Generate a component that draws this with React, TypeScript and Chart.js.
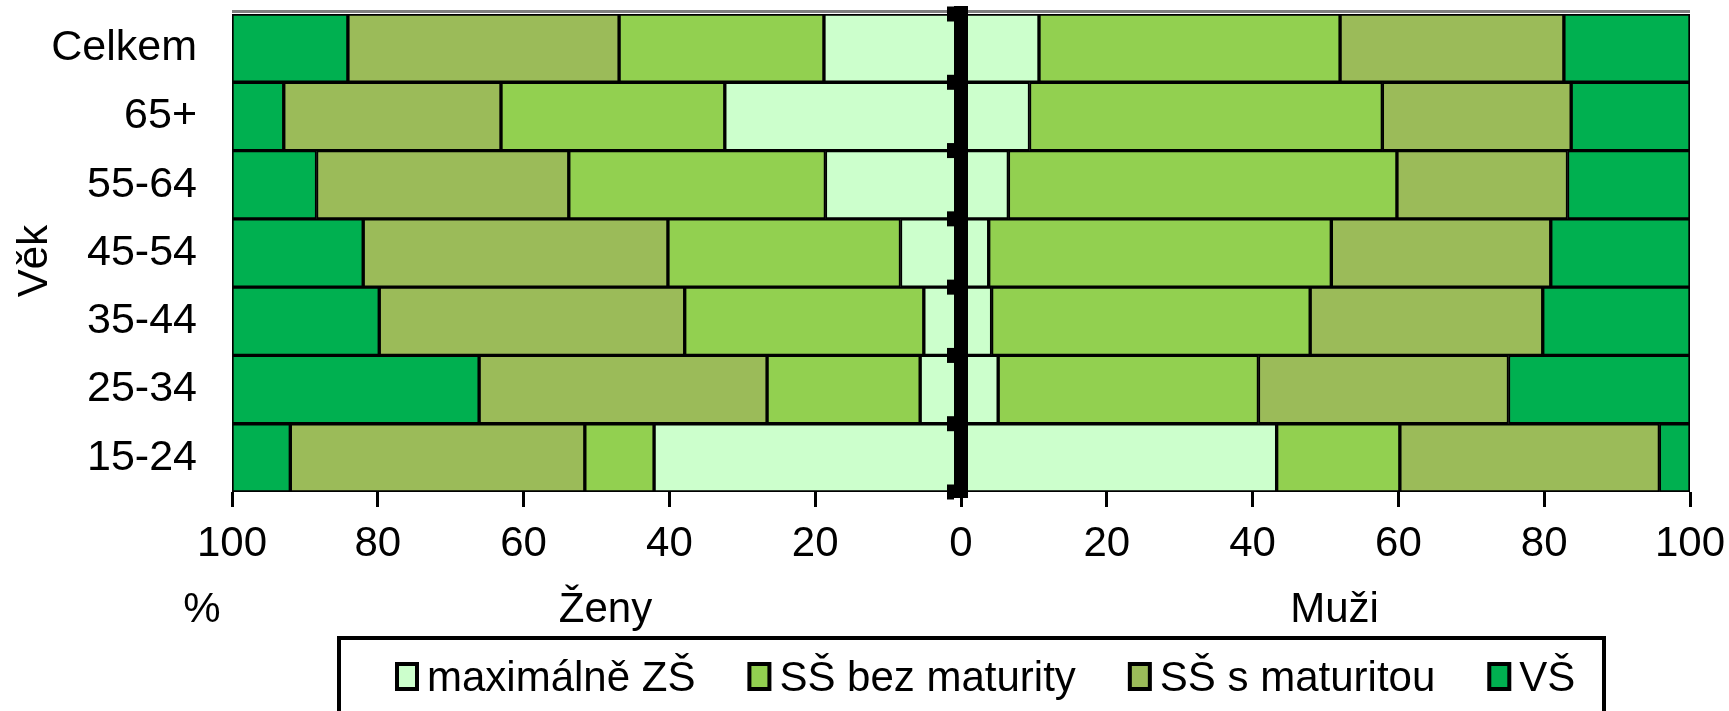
import { useEffect, useRef } from "react";
import { Chart, registerables } from "chart.js";

Chart.register(...registerables);

const FONT = "'Liberation Sans', Arial, sans-serif";

const categories = ["Celkem", "65+", "55-64", "45-54", "35-44", "25-34", "15-24"];
const levels = ["maximálně ZŠ", "SŠ bez maturity", "SŠ s maturitou", "VŠ"];
const colors = ["#CCFFCC", "#92D050", "#9BBB59", "#00B050"];

// Ženy (women) – drawn to the left
const zenyZS = [18.8, 32.4, 18.6, 8.3, 5.1, 5.6, 42.1];
const zenyBez = [28.1, 30.7, 35.2, 31.9, 32.8, 21.0, 9.5];
const zenyS = [37.2, 29.8, 34.6, 41.8, 41.9, 39.5, 40.4];
const zenyVS = [15.9, 7.1, 11.6, 18.0, 20.2, 33.9, 8.0];

// Muži (men) – drawn to the right
const muziZS = [10.7, 9.4, 6.5, 3.8, 4.2, 5.1, 43.3];
const muziBez = [41.3, 48.4, 53.3, 47.0, 43.7, 35.7, 16.9];
const muziS = [30.7, 25.9, 23.4, 30.1, 31.9, 34.3, 35.6];
const muziVS = [17.3, 16.3, 16.8, 19.1, 20.2, 24.9, 4.2];

const genderLabels = ["Ženy", "Muži"];
const unitLabel = "%";
const axisTitle = "Věk";
const xMin = -100;
const xMax = 100;
const xStep = 20;

const decorPlugin = {
  id: "decor",
  beforeDatasetsDraw(chart: any) {
    const { ctx, chartArea: a } = chart;
    ctx.save();
    ctx.fillStyle = "#808080";
    ctx.fillRect(a.left, a.top - 4, a.right - a.left, 3);
    ctx.restore();
  },
  afterDraw(chart: any) {
    const { ctx, chartArea: a, scales } = chart;
    const xs = scales.x;
    const ys = scales.y;
    const x0 = xs.getPixelForValue(0);
    ctx.save();
    ctx.fillStyle = "#000";
    // thick centre axis
    ctx.fillRect(x0 - 7, a.top - 8, 14, a.bottom - a.top + 14);
    for (let i = 0; i <= categories.length; i++) {
      const y = ys.getPixelForValue(i - 0.5);
      ctx.fillRect(x0 - 14, y - 7.5, 7, 15);
    }
    ctx.font = `42px ${FONT}`;
    // vertical axis title
    ctx.save();
    ctx.translate(35, (a.top + a.bottom) / 2 + 8);
    ctx.rotate(-Math.PI / 2);
    ctx.textAlign = "center";
    ctx.textBaseline = "middle";
    ctx.fillText(axisTitle, 0, 0);
    ctx.restore();
    // under-axis labels
    ctx.textAlign = "center";
    ctx.textBaseline = "alphabetic";
    ctx.fillText(unitLabel, xs.getPixelForValue(-100) - 30, 622);
    ctx.fillText(genderLabels[0], xs.getPixelForValue(-50) + 9, 622);
    ctx.fillText(genderLabels[1], xs.getPixelForValue(50) + 9, 622);
    // legend
    const boxL = 339;
    const boxT = 638;
    const boxR = 1604;
    ctx.lineWidth = 4;
    ctx.strokeStyle = "#000";
    ctx.strokeRect(boxL, boxT, boxR - boxL, 140);
    let x = boxL + 56;
    ctx.textAlign = "left";
    levels.forEach((lab, i) => {
      ctx.fillStyle = "#000";
      ctx.fillRect(x, 662, 24, 29);
      ctx.fillStyle = colors[i];
      ctx.fillRect(x + 4, 666, 16, 21);
      ctx.fillStyle = "#000";
      ctx.fillText(lab, x + 32, 691);
      x += 32 + ctx.measureText(lab).width + 52;
    });
    ctx.restore();
  },
};

export default function App() {
  const ref = useRef<HTMLCanvasElement>(null);

  useEffect(() => {
    const women = [zenyZS, zenyBez, zenyS, zenyVS];
    const men = [muziZS, muziBez, muziS, muziVS];
    const datasets: any[] = [];
    women.forEach((arr, i) => {
      datasets.push({
        label: `${genderLabels[0]} – ${levels[i]}`,
        data: arr.map((v) => -v),
        backgroundColor: colors[i],
      });
    });
    men.forEach((arr, i) => {
      datasets.push({
        label: `${genderLabels[1]} – ${levels[i]}`,
        data: arr,
        backgroundColor: colors[i],
      });
    });
    datasets.forEach((d) => {
      d.borderColor = "#000";
      d.borderWidth = 2;
      d.borderSkipped = false;
      d.barPercentage = 1;
      d.categoryPercentage = 1;
      d.stack = "s";
    });

    const chart = new Chart(ref.current!, {
      type: "bar",
      data: { labels: categories, datasets },
      plugins: [decorPlugin],
      options: {
        indexAxis: "y",
        responsive: false,
        animation: false,
        devicePixelRatio: 1,
        layout: { padding: { top: 14, right: 39, left: 0, bottom: 0 } },
        plugins: {
          legend: { display: false },
          tooltip: { enabled: false },
        },
        scales: {
          x: {
            type: "linear",
            stacked: true,
            min: xMin,
            max: xMax,
            afterFit: (s: any) => {
              s.height = 219;
              s.paddingLeft = 0;
              s.paddingRight = 0;
            },
            ticks: {
              stepSize: xStep,
              autoSkip: false,
              maxRotation: 0,
              padding: 12,
              color: "#000",
              font: { family: FONT, size: 42 },
              callback: (v: any) => String(Math.abs(Number(v))),
            },
            grid: {
              display: true,
              drawOnChartArea: false,
              drawTicks: true,
              tickLength: 15,
              tickWidth: 3,
              tickColor: "#000",
              color: "#000",
              lineWidth: 3,
            },
            border: { display: false },
          },
          y: {
            type: "category",
            stacked: true,
            afterFit: (s: any) => {
              s.width = 232;
              s.paddingTop = 0;
              s.paddingBottom = 0;
            },
            ticks: {
              padding: 35,
              color: "#000",
              font: { family: FONT, size: 43 },
            },
            grid: { display: false, drawTicks: false },
            border: { display: false },
          },
        },
      } as any,
    });
    return () => chart.destroy();
  }, []);

  return (
    <div
      style={{
        position: "absolute",
        left: 0,
        top: 0,
        width: 1729,
        height: 711,
        background: "#fff",
      }}
    >
      <canvas ref={ref} width={1729} height={711} style={{ display: "block" }} />
    </div>
  );
}
